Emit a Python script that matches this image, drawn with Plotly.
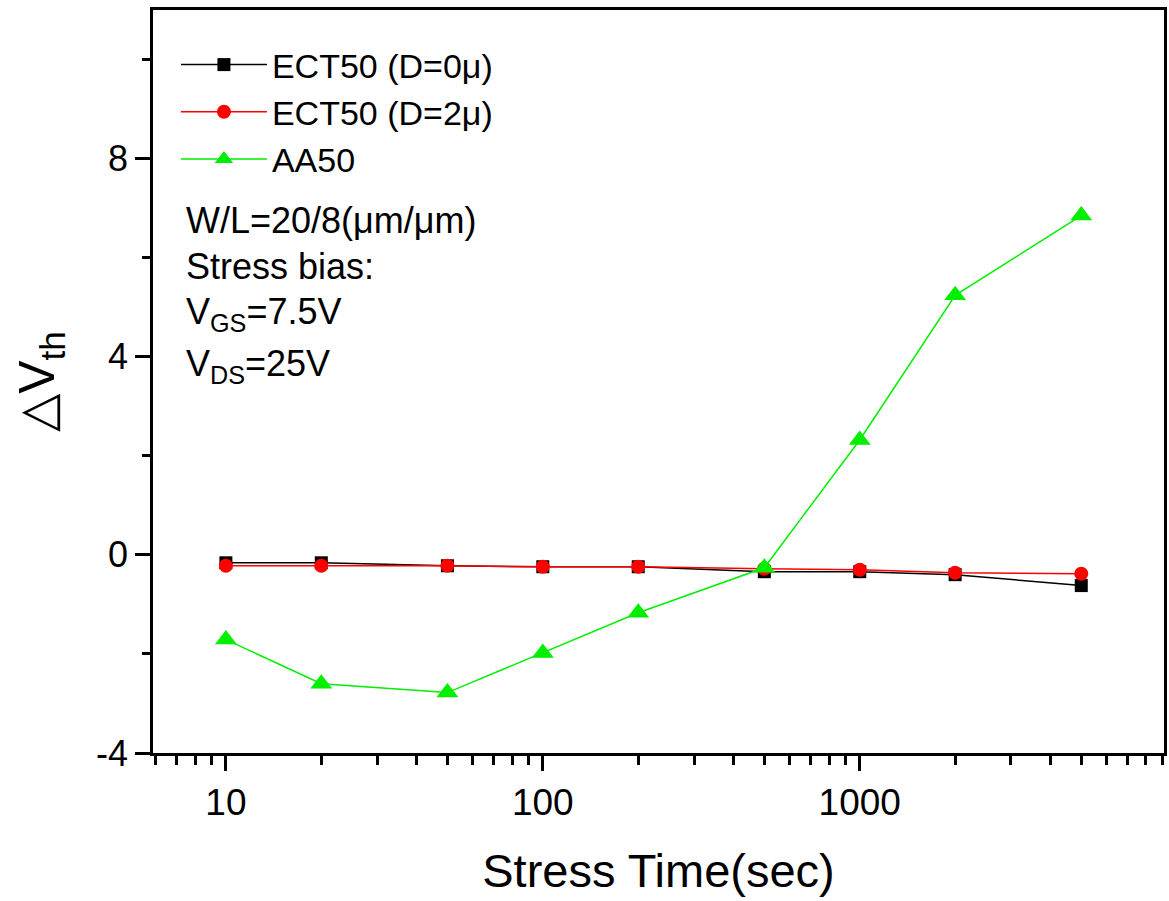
import plotly.graph_objects as go

stress_time = [10, 20, 50, 100, 200, 500, 1000, 2000, 5000]
ect50_d0 = [-0.16, -0.16, -0.22, -0.24, -0.24, -0.34, -0.34, -0.40, -0.62]
ect50_d2 = [-0.22, -0.22, -0.22, -0.24, -0.24, -0.28, -0.30, -0.36, -0.38]
aa50 = [-1.71, -2.60, -2.78, -1.98, -1.17, -0.26, 2.32, 5.24, 6.85]

names = ["ECT50 (D=0\u03bc)", "ECT50 (D=2\u03bc)", "AA50"]
FONT = "Liberation Sans, Arial, sans-serif"

fig = go.Figure()
fig.add_trace(go.Scatter(x=stress_time, y=ect50_d0, name=names[0], mode="lines+markers",
                         line=dict(color="black", width=1.5),
                         marker=dict(symbol="square", size=13, color="black")))
fig.add_trace(go.Scatter(x=stress_time, y=ect50_d2, name=names[1], mode="lines+markers",
                         line=dict(color="red", width=1.5),
                         marker=dict(symbol="circle", size=14, color="red")))
fig.add_trace(go.Scatter(x=stress_time, y=aa50, name=names[2], mode="lines+markers",
                         line=dict(color="#00ee00", width=1.5),
                         marker=dict(symbol="triangle-up", size=19, color="#00ee00")))

anno_lines = [("W/L=20/8(\u03bcm/\u03bcm)", 220), ("Stress bias:", 266),
              ("V<sub>GS</sub>=7.5V", 314), ("V<sub>DS</sub>=25V", 366)]
annotations = []
for txt, ypix in anno_lines:
    annotations.append(dict(text=txt, xref="paper", yref="paper",
                            x=(184 - 153) / 1014, y=1 - (ypix - 10) / 743,
                            xanchor="left", yanchor="middle", showarrow=False,
                            font=dict(family=FONT, size=36, color="black")))

fig.update_layout(
    width=1169, height=901,
    margin=dict(l=153, r=2, t=10, b=148),
    paper_bgcolor="white", plot_bgcolor="white",
    font=dict(family=FONT, color="black"),
    showlegend=True,
    legend=dict(x=(176 - 153) / 1014, y=1 - (36 - 10) / 743, xanchor="left", yanchor="top",
                font=dict(family=FONT, size=34, color="black"),
                bgcolor="rgba(0,0,0,0)", itemwidth=86, tracegroupgap=0),
    annotations=annotations,
    xaxis=dict(type="log", range=[0.77, 3.96],
               showline=True, linecolor="black", linewidth=2.5, mirror=True,
               showgrid=False, zeroline=False,
               ticks="outside", ticklen=15, tickwidth=2.5, tickcolor="black",
               tickvals=[10, 100, 1000], ticktext=["10", "100", "1000"],
               tickfont=dict(family=FONT, size=37),
               minor=dict(ticks="outside", ticklen=9, tickwidth=2.5, tickcolor="black",
                          tickvals=[6, 7, 8, 9, 20, 30, 40, 50, 60, 70, 80, 90,
                                    200, 300, 400, 500, 600, 700, 800, 900,
                                    2000, 3000, 4000, 5000, 6000, 7000, 8000, 9000],
                          showgrid=False),
               title=dict(text="Stress Time(sec)", font=dict(family=FONT, size=47),
                          standoff=32)),
    yaxis=dict(range=[-4, 11],
               showline=True, linecolor="black", linewidth=2.5, mirror=True,
               showgrid=False, zeroline=False,
               ticks="outside", ticklen=15, tickwidth=2.5, tickcolor="black",
               tickvals=[-4, 0, 4, 8], ticktext=["-4", "0", "4", "8"],
               tickfont=dict(family=FONT, size=36),
               minor=dict(ticks="outside", ticklen=8, tickwidth=2.5, tickcolor="black",
                          tickvals=[-2, 2, 6, 10], showgrid=False),
               title=dict(text="\u25b3V<sub>th</sub>", font=dict(family=FONT, size=50),
                          standoff=26)),
)

fig.write_html("out.html")
